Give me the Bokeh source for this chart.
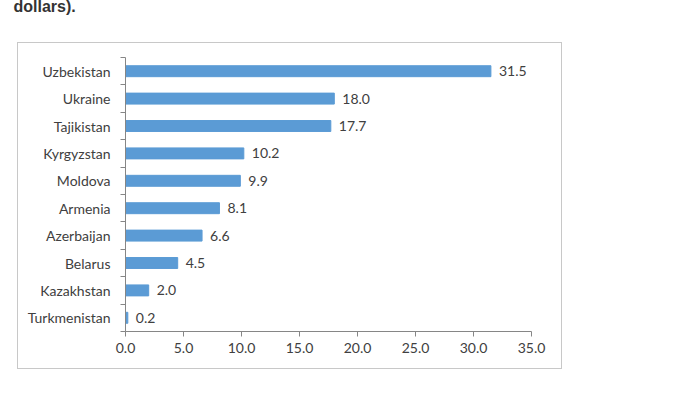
from bokeh.plotting import figure
from bokeh.models import FixedTicker, ColumnDataSource, Title, Range1d, NumeralTickFormatter
from bokeh.core.properties import value
from bokeh.embed import file_html
from bokeh.resources import INLINE

countries = ["Turkmenistan", "Kazakhstan", "Belarus", "Azerbaijan", "Armenia",
             "Moldova", "Kyrgyzstan", "Tajikistan", "Ukraine", "Uzbekistan"]
values = [0.2, 2.0, 4.5, 6.6, 8.1, 9.9, 10.2, 17.7, 18.0, 31.5]
x_ticks = [0, 5, 10, 15, 20, 25, 30, 35]
title_text = "dollars)."

FONT = "Lato"
TXT = "#404040"
AX = "#868686"
BORDER = "#C8C8C8"

SHIFT = 5  # canvas starts this many px above the page content area

idx = list(range(len(countries)))
src = ColumnDataSource(dict(y=idx, v=values, lab=[f"{v:.1f}" for v in values]))

# outer chart box drawn with CSS gradients behind a transparent canvas
bx0, by0, bw, bh = 17, 42 + SHIFT, 544, 326
g = f"linear-gradient({BORDER},{BORDER})"
bg = ", ".join([
    f"{g} {bx0}px {by0}px / {bw}px 1px no-repeat",
    f"{g} {bx0}px {by0 + bh}px / {bw + 1}px 1px no-repeat",
    f"{g} {bx0}px {by0}px / 1px {bh}px no-repeat",
    f"{g} {bx0 + bw}px {by0}px / 1px {bh + 1}px no-repeat",
    "white",
])

W, H = 684, 378 + SHIFT
p = figure(width=W, height=H, output_backend="svg", toolbar_location=None,
           x_range=Range1d(0, 35), y_range=Range1d(-0.5, len(countries) - 0.5),
           min_border_left=125, min_border_right=W - 531,
           min_border_top=57 + SHIFT, min_border_bottom=H - (331 + SHIFT),
           styles={"background": bg, "margin-top": f"-{SHIFT}px"})
p.outline_line_color = None
p.xgrid.grid_line_color = None
p.ygrid.grid_line_color = None
p.background_fill_color = None
p.border_fill_color = None

p.hbar(y="y", right="v", left=0, height=0.4, source=src, color="#5B9BD5")
p.text(x="v", y="y", text="lab", source=src, x_offset=8, text_baseline="middle",
       text_align="left", text_font=value(FONT), text_font_size="14px", text_color=TXT)

# x axis
xa = p.xaxis[0]
xa.ticker = FixedTicker(ticks=x_ticks)
xa.formatter = NumeralTickFormatter(format="0.0")
xa.axis_line_color = AX
xa.major_tick_line_color = AX
xa.major_tick_out = 5
xa.major_tick_in = 0
xa.minor_tick_line_color = None
xa.major_label_text_font = FONT
xa.major_label_text_font_size = "14px"
xa.major_label_text_color = TXT
xa.major_label_standoff = 6

# y axis
ya = p.yaxis[0]
ya.ticker = FixedTicker(ticks=idx, minor_ticks=[i - 0.5 for i in range(len(countries) + 1)])
ya.major_label_overrides = {i: c for i, c in zip(idx, countries)}
ya.axis_line_color = AX
ya.major_tick_line_color = None
ya.major_tick_out = 0
ya.major_tick_in = 0
ya.minor_tick_line_color = AX
ya.minor_tick_out = 5
ya.minor_tick_in = 0
ya.major_label_text_font = FONT
ya.major_label_text_font_size = "14px"
ya.major_label_text_color = TXT
ya.major_label_standoff = 10

# spacer panel between frame and title, then the title itself at the top
p.add_layout(Title(text=" ", text_font_size="1px", standoff=40), "above")
p.add_layout(Title(text=title_text, align="left", offset=13 - 125, standoff=0,
                   text_font="Liberation Sans", text_font_style="bold",
                   text_font_size="16px", text_color="#333333"), "above")

open("out.html", "w").write(file_html(p, INLINE))
